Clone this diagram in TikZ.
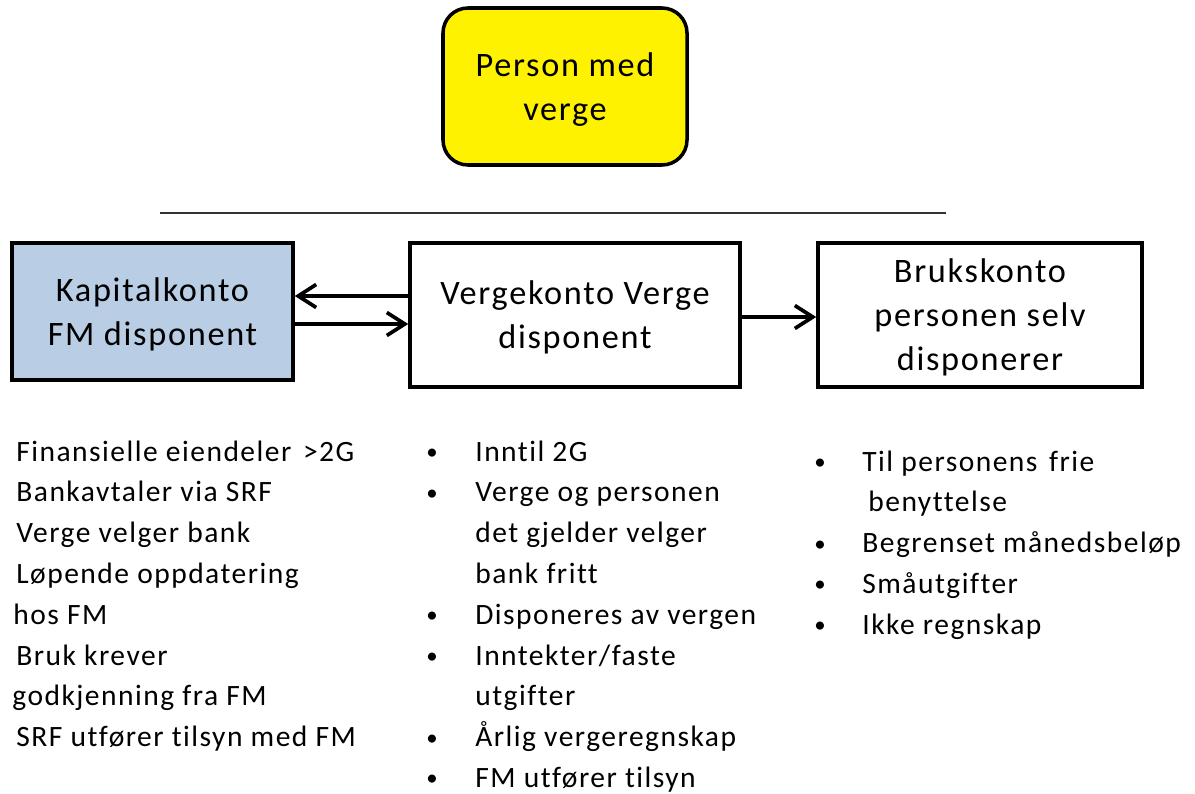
\documentclass[tikz,border=0pt]{standalone}
\usepackage{fontspec}
\setmainfont{Carlito}[Ligatures = NoCommon, LetterSpace = 5]
\usetikzlibrary{arrows.meta}
\definecolor{kapblue}{HTML}{B9CDE5}

\begin{document}
\begin{tikzpicture}[
        box/.style = {draw, line width = 2pt, align = center, inner sep = 0pt, text depth = 0pt,
            font = \fontsize{19.5}{25}\selectfont},
        arr/.style = {line width = 2.1pt, -{Straight Barb[length = 3.6mm, width = 4.6mm]}},
        item/.style = {anchor = base west, inner sep = 0pt, font = \fontsize{16.8}{23.2}\selectfont},
        dot/.style = {anchor = base, inner sep = 0pt, yshift = 0.03cm, font = \fontsize{13}{16}\selectfont}]
                \useasboundingbox (0, 0) rectangle (23.9, -15.88);

                \node [box, fill = yellow, rounded corners = 0.5cm, minimum width = 4.88cm, minimum height = 3.14cm] (person) at (11.3, -1.73) {Person med\\verge};

                \coordinate (rulel) at (3.2, -4.26);
                \coordinate (ruler) at (18.92, -4.26);
                \draw [line width = 1.1pt, black!80] (rulel) -- (ruler);

                \node [box, fill = kapblue, minimum width = 5.62cm, minimum height = 2.74cm] (kap) at (3.05, -6.23) {Kapitalkonto\\FM disponent};
                \node [box, minimum width = 6.6cm, minimum height = 2.88cm] (verge) at (11.5, -6.3) {Vergekonto Verge\\disponent};
                \node [box, minimum width = 6.48cm, minimum height = 2.88cm] (bruks) at (19.6, -6.3) {Brukskonto\\personen selv\\disponerer};

                \draw [arr] ([yshift = 0.38cm]verge.west) -- ([yshift = 0.38cm]verge.west -| kap.east);
                \draw [arr] ([yshift = -0.25cm]kap.east) -- ([yshift = -0.25cm]kap.east -| verge.west);
                \draw [arr] ([yshift = -0.04cm]verge.east) -- ([yshift = -0.04cm]verge.east -| bruks.west);

                \node [item] (k1) at (0.32, -9.22) {Finansielle eiendeler \kern2pt>2G};
                \node [item] (k2) at (0.32, -10.036) {Bankavtaler via SRF};
                \node [item] (k3) at (0.32, -10.852) {Verge velger bank};
                \node [item] (k4) at (0.32, -11.668) {Løpende oppdatering};
                \node [item] (k5) at (0.26, -12.484) {hos FM};
                \node [item] (k6) at (0.32, -13.3) {Bruk krever};
                \node [item] (k7) at (0.24, -14.116) {godkjenning fra FM};
                \node [item] (k8) at (0.32, -14.932) {SRF utfører tilsyn med FM};

                \node [dot] (vd1) at (8.64, -9.22) {\textbullet};
                \node [dot] (vd2) at (8.64, -10.036) {\textbullet};
                \node [dot] (vd5) at (8.64, -12.484) {\textbullet};
                \node [dot] (vd6) at (8.64, -13.3) {\textbullet};
                \node [dot] (vd8) at (8.64, -14.932) {\textbullet};
                \node [dot] (vd9) at (8.64, -15.748) {\textbullet};
                \node [item] (v1) at (9.5, -9.22) {Inntil 2G};
                \node [item] (v2) at (9.5, -10.036) {Verge og personen};
                \node [item] (v3) at (9.5, -10.852) {det gjelder velger};
                \node [item] (v4) at (9.5, -11.668) {bank fritt};
                \node [item] (v5) at (9.5, -12.484) {Disponeres av vergen};
                \node [item] (v6) at (9.5, -13.3) {Inntekter/faste};
                \node [item] (v7) at (9.5, -14.116) {utgifter};
                \node [item] (v8) at (9.5, -14.932) {Årlig vergeregnskap};
                \node [item] (v9) at (9.5, -15.748) {FM utfører tilsyn};

                \node [dot] (bd1) at (16.4, -9.42) {\textbullet};
                \node [dot] (bd3) at (16.4, -11.052) {\textbullet};
                \node [dot] (bd4) at (16.4, -11.868) {\textbullet};
                \node [dot] (bd5) at (16.4, -12.684) {\textbullet};
                \node [item] (b1) at (17.24, -9.42) {Til personens \kern2pt frie};
                \node [item] (b2) at (17.36, -10.236) {benyttelse};
                \node [item] (b3) at (17.24, -11.052) {Begrenset månedsbeløp};
                \node [item] (b4) at (17.24, -11.868) {Småutgifter};
                \node [item] (b5) at (17.24, -12.684) {Ikke regnskap};
            \end{tikzpicture}
\end{document}
